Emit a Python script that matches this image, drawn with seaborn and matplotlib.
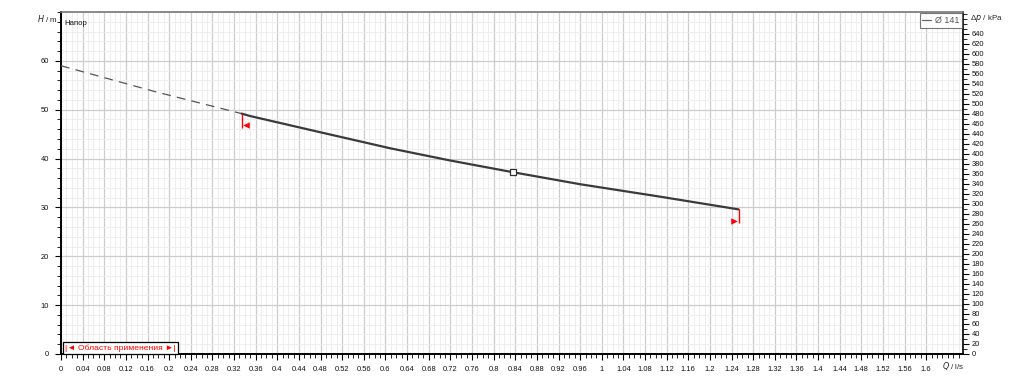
import matplotlib
matplotlib.use("Agg")
import matplotlib.pyplot as plt
import seaborn as sns
import pandas as pd
from matplotlib.ticker import MultipleLocator, FixedLocator, FixedFormatter

sns.set_theme(style="white")
plt.rcParams['font.family'] = ['Liberation Sans', 'DejaVu Sans']

# ---- data ----
q_ext = [0.0, 0.174, 0.334]          # extrapolated (dashed) part, l/s
h_ext = [59.0, 53.7, 49.2]           # m
q_op = [0.334, 0.35, 0.479, 0.609, 0.72, 0.836, 0.96, 1.108, 1.253]
h_op = [49.2, 48.7, 45.4, 42.1, 39.6, 37.2, 34.75, 32.2, 29.6]
duty_q = [0.836]
duty_h = [37.2]
limit_q = [0.334, 1.253]
limit_h = [49.2, 29.6]
series_label = "Ø 141"
x_ticks = [round(0.04 * i, 2) for i in range(41)]
x_labels = [f"{v:g}" for v in x_ticks]
y_ticks = [0, 10, 20, 30, 40, 50, 60]
kpa_ticks = list(range(0, 641, 20))

X_MAX = 1.668
Y_MAX = 70
KPA_MAX = 684

fig = plt.figure(figsize=(10.24, 3.8), dpi=100)
ax = fig.add_axes([61 / 1024, 1 - 354 / 380, (963 - 61) / 1024, (354 - 12) / 380])

df_ext = pd.DataFrame({"Q": q_ext, "H": h_ext})
df_op = pd.DataFrame({"Q": q_op, "H": h_op})

sns.lineplot(data=df_ext, x="Q", y="H", ax=ax, color="#555555", lw=0.9,
             linestyle=(0, (7, 5)), zorder=3)
sns.lineplot(data=df_op, x="Q", y="H", ax=ax, color="#3a3a3a", lw=1.6,
             zorder=4, label=series_label)
ax.scatter(duty_q, duty_h, marker="s", s=16, facecolor="white",
           edgecolor="#333333", linewidth=0.9, zorder=5)

# operating range limit markers
ax.vlines(limit_q[0], limit_h[0] - 2.9, limit_h[0], color="red", lw=1.0, zorder=5)
ax.scatter([limit_q[0] + 0.008], [limit_h[0] - 2.4], marker="<", s=22,
           color="red", zorder=5, linewidth=0)
ax.vlines(limit_q[1], limit_h[1] - 2.8, limit_h[1], color="red", lw=1.0, zorder=5)
ax.scatter([limit_q[1] - 0.008], [limit_h[1] - 2.4], marker=">", s=22,
           color="red", zorder=5, linewidth=0)

ax.set_xlim(0, X_MAX)
ax.set_ylim(0, Y_MAX)

ax.xaxis.set_major_locator(FixedLocator(x_ticks))
ax.xaxis.set_major_formatter(FixedFormatter(x_labels))
ax.xaxis.set_minor_locator(MultipleLocator(0.01))
ax.yaxis.set_major_locator(FixedLocator(y_ticks))
ax.yaxis.set_minor_locator(MultipleLocator(2))

ax.tick_params(axis="both", which="major", labelsize=5.4, length=4.5, width=0.8,
               color="black", direction="out", pad=4, labelcolor="#111111")
ax.tick_params(axis="both", which="minor", length=2.8, width=0.6, color="black",
               direction="out")
ax.tick_params(axis="x", which="both", bottom=True)
ax.tick_params(axis="y", which="both", left=True)

ax.grid(which="major", color="#cdcdcd", lw=0.9)
ax.grid(which="minor", color="#ebebeb", lw=0.6)
ax.set_axisbelow(True)
ax.set_xlabel("")
ax.set_ylabel("")

for s in ["left", "bottom"]:
    ax.spines[s].set_color("black")
    ax.spines[s].set_linewidth(1.4)
ax.spines["top"].set_color("#777777")
ax.spines["top"].set_linewidth(1.2)
ax.spines["right"].set_color("black")
ax.spines["right"].set_linewidth(1.2)

# right axis in kPa
ax2 = ax.twinx()
ax2.set_ylim(0, KPA_MAX)
ax2.yaxis.set_major_locator(FixedLocator(kpa_ticks))
ax2.yaxis.set_minor_locator(MultipleLocator(10))
ax2.tick_params(axis="y", which="major", labelsize=5.4, length=4.5, width=0.8,
                color="black", pad=1.5, labelcolor="#111111")
ax2.tick_params(axis="y", which="minor", length=2.8, width=0.6, color="black")
ax2.grid(False)
for s in ax2.spines.values():
    s.set_visible(False)

# axis titles
fig.text(37 / 1024, 1 - 18 / 380, "$H$ / m", fontsize=5.8, ha="left", va="center")
fig.text(970 / 1024, 1 - 18 / 380, "Δ$p$ / kPa", fontsize=5.8, ha="left", va="center")
fig.text(942 / 1024, 1 - 366 / 380, "$Q$ / l/s", fontsize=5.8, ha="left", va="center")

ax.text(0.004, 0.978, "Напор", transform=ax.transAxes, fontsize=5.6,
        ha="left", va="top", color="#111111")

leg = ax.legend(loc="upper right", fontsize=6.4, handlelength=1.0,
                handletextpad=0.4, borderpad=0.3, frameon=True, fancybox=False,
                borderaxespad=0.15)
leg.get_frame().set_edgecolor("#555555")
leg.get_frame().set_linewidth(0.8)
for line in leg.get_lines():
    line.set_linewidth(0.9)
    line.set_color("#666666")
for t in leg.get_texts():
    t.set_color("#555555")

ax.text(0.0045, 0.006, "|◄ Область применения ►|", transform=ax.transAxes,
        fontsize=6.1, color="red", ha="left", va="bottom", zorder=6,
        bbox=dict(boxstyle="square,pad=0.3", facecolor="white",
                  edgecolor="black", linewidth=0.9))

fig.savefig("out.png", dpi=100)
